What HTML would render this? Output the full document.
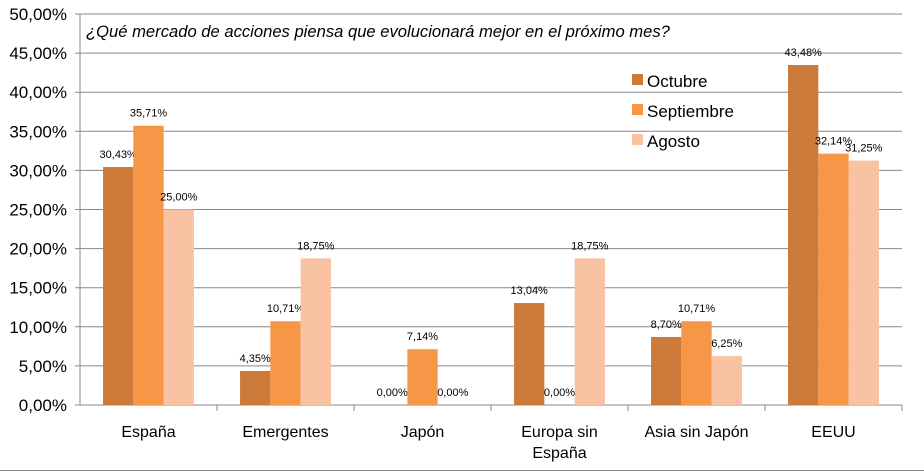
<!DOCTYPE html>
<html><head><meta charset="utf-8"><style>
body{margin:0;background:#fff;}
svg{display:block;font-family:"Liberation Sans",sans-serif;}
</style></head><body>
<svg id="chart" width="924" height="473"></svg>
<script>
const categories=["España","Emergentes","Japón","Europa sin|España","Asia sin Japón","EEUU"];
const octubre=[30.43,4.35,0,13.04,8.70,43.48];
const septiembre=[35.71,10.71,7.14,0,10.71,32.14];
const agosto=[25.00,18.75,0,18.75,6.25,31.25];
const seriesNames=["Octubre","Septiembre","Agosto"];
const yTicks=[0,5,10,15,20,25,30,35,40,45,50];
const colors=["#CB7A3A","#F79646","#F9C2A2"];
const svg=document.getElementById('chart');
const NS="http://www.w3.org/2000/svg";
const x0=80,x1=902,yTop=14,yBot=405;
const cw=(x1-x0)/categories.length, bw=30.3;
const y=v=>yBot-(v/50)*(yBot-yTop);
function mk(t,a,txt){const e=document.createElementNS(NS,t);for(const k in a)e.setAttribute(k,a[k]);if(txt!==undefined)e.textContent=txt;svg.appendChild(e);return e;}
const fmt=v=>v.toFixed(2).replace('.',',')+'%';
mk('line',{x1:0,x2:924,y1:470.5,y2:470.5,stroke:'#888'});
yTicks.forEach(t=>{
 let l=mk('line',{x1:x0-5,x2:x1,y1:y(t),y2:y(t),stroke:'#888','stroke-width':1});
 
 let tx=mk('text',{x:x0-13,y:y(t)+6,'text-anchor':'end','font-size':17,fill:'#000'},fmt(t));
 
});
mk('line',{x1:x0,x2:x0,y1:yTop,y2:yBot,stroke:'#888'});
const all=[octubre,septiembre,agosto];
categories.forEach((c,i)=>{
 const cx=x0+cw*(i+0.5);
 mk('line',{x1:x0+cw*(i+1),x2:x0+cw*(i+1),y1:yBot,y2:yBot+6,stroke:'#888'});
 all.forEach((s,j)=>{
  const bx=cx-1.5*bw+j*bw;
  let r=mk('rect',{x:bx,y:y(s[i]),width:bw,height:yBot-y(s[i]),fill:colors[j]});
  
  
  let lb=mk('text',{x:bx+bw/2,y:y(s[i])-9,'text-anchor':'middle','font-size':11,fill:'#000'},fmt(s[i]));
  
  
 });
 c.split('|').forEach((p,k)=>{
  let t=mk('text',{x:cx,y:437+k*21,'text-anchor':'middle','font-size':16,fill:'#000'},p);
  
  
 });
});
let ti=mk('text',{x:86,y:37,'font-size':16.6,'font-style':'italic',fill:'#000'},'¿Qué mercado de acciones piensa que evolucionará mejor en el próximo mes?');

seriesNames.forEach((n,j)=>{
 const ly=81+j*30;
 let r=mk('rect',{x:632,y:ly-7,width:11,height:11,fill:colors[j]});
 
 let t=mk('text',{x:647,y:ly+6,'font-size':17,fill:'#000'},n);
 
});
</script>
</body></html>
